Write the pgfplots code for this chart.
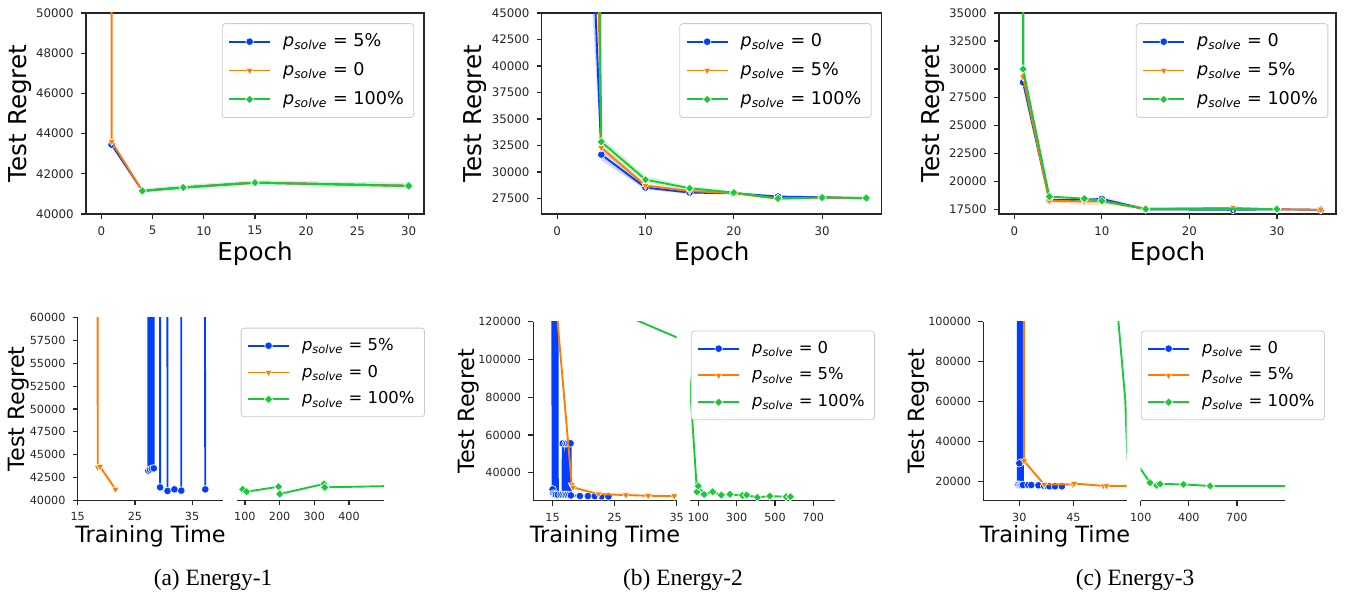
\documentclass[border=0pt]{standalone}
\usepackage{fontspec}
\setmainfont{DejaVu Sans}
\newfontfamily\capfont{Liberation Serif}
\usepackage{pgfplots}
\pgfplotsset{compat=1.18}

\definecolor{cblue}{HTML}{023EFF}
\definecolor{corange}{HTML}{FF7C00}
\definecolor{cgreen}{HTML}{1AC938}
\definecolor{dgray}{HTML}{262626}

\newcommand{\ps}[1]{\textit{p}\textsubscript{\textit{solve}} = #1}

\pgfplotsset{
  panel/.style={
    scale only axis, clip=true, clip marker paths=true,
    axis line style={dgray, line width=0.6pt},
    tick style={dgray, line width=0.6pt},
    major tick length=2.6pt,
    /pgf/number format/assume math mode=true,
    scaled ticks=false,
    yticklabel style={/pgf/number format/fixed, /pgf/number format/1000 sep={}},
    xticklabel style={/pgf/number format/1000 sep={}},
    tick label style={text=dgray},
    legend cell align=left,
    legend image code/.code={\draw[mark repeat=2, mark phase=2]
      plot coordinates {(0pt,0pt) (10.25pt,0pt) (20.5pt,0pt)};},
  },
  top/.style={panel, width=169pt, height=100.5pt,
    xtick pos=left, ytick pos=left, tick align=outside,
    tick label style={font=\fontsize{5.9}{7}\selectfont},
    label style={font=\fontsize{12.3}{14}\selectfont},
    xlabel={Epoch}, ylabel={Test Regret},
    xlabel style={at={(axis description cs:0.5,-0.197)}, anchor=center},
    ylabel style={at={(axis description cs:-0.195,0.5)}, anchor=center},
    legend style={font=\fontsize{8.8}{10.5}\selectfont, draw=black!20,
      rounded corners=1.5pt, anchor=north east, row sep=2.4pt,
      inner xsep=3pt, inner ysep=3pt,
      /tikz/every odd column/.append style={column sep=4pt}},
  },
  botl/.style={panel, height=90pt,
    axis x line*=bottom, axis y line*=left, tick align=outside,
    tick label style={font=\fontsize{5.6}{7}\selectfont},
    label style={font=\fontsize{11.2}{13}\selectfont},
    xlabel={Training Time}, ylabel={Test Regret},
    xlabel style={at={(axis description cs:0.5,-0.2)}, anchor=center},
  },
  botr/.style={panel, height=90pt,
    axis x line*=bottom, hide y axis, tick align=outside,
    tick label style={font=\fontsize{5.6}{7}\selectfont},
    legend style={font=\fontsize{8.2}{9.8}\selectfont, draw=black!20,
      rounded corners=1.5pt, anchor=north east, row sep=1.8pt,
      inner xsep=3pt, inner ysep=3pt,
      /tikz/every odd column/.append style={column sep=4pt}},
  },
  sblue/.style={cblue, line width=0.95pt, mark=*, mark size=1.9pt,
    mark options={fill=cblue, draw=white, line width=0.3pt}},
  sorange/.style={corange, line width=0.95pt, mark=triangle*, mark size=2.1pt,
    mark options={fill=corange, draw=white, line width=0.3pt, rotate=180}},
  sgreen/.style={cgreen, line width=0.95pt, mark=square*, mark size=1.5pt,
    mark options={fill=cgreen, draw=white, line width=0.3pt, rotate=45}},
  band/.style={fill=#1, fill opacity=0.2, draw=none, forget plot},
}

\begin{document}
\begin{tikzpicture}
\useasboundingbox (0,0) rectangle (674pt,298.5pt);

% ---------- (a) Energy-1, epoch ----------
\begin{axis}[top, at={(43pt,191.5pt)}, anchor=south west,
  xmin=-1.5, xmax=31.5, ymin=40000, ymax=50000,
  xtick={0,5,10,15,20,25,30}, ytick={40000,42000,44000,46000,48000,50000},
  legend style={at={(0.971,0.949)}}]
\addplot[band=cgreen] coordinates {(4,41260) (8,41450) (15,41680) (30,41560)
  (30,41250) (15,41430) (8,41180) (4,41060)} -- cycle;
\addplot[sblue] coordinates {(1,43450) (4,41150) (8,41320) (15,41560) (30,41400)};
\addlegendentry{\ps{5\%}}
\addplot[sorange] coordinates {(1,70000) (1,43600) (4,41150) (8,41320) (15,41560) (30,41400)};
\addlegendentry{\ps{0}}
\addplot[sgreen] coordinates {(4,41150) (8,41320) (15,41560) (30,41400)};
\addlegendentry{\ps{100\%}}
\end{axis}

% ---------- (b) Energy-2, epoch ----------
\begin{axis}[top, at={(270.85pt,191.5pt)}, anchor=south west, width=170pt,
  xmin=-1.75, xmax=36.75, ymin=26050, ymax=45000,
  xtick={0,10,20,30}, ytick={27500,30000,32500,35000,37500,40000,42500,45000},
  legend style={at={(0.9706,0.949)}}]
\addplot[band=cblue] coordinates {(0,170000) (5,32100) (10,28750) (15,28200) (20,28080) (25,27800) (30,27700) (35,27600)
  (35,27470) (30,27560) (25,27580) (20,27920) (15,27950) (10,28350) (5,31100) (0,100000)} -- cycle;
\addplot[band=corange] coordinates {(5,32550) (10,28900) (15,28350) (20,28080) (25,27600) (30,27680) (35,27600)
  (35,27500) (30,27520) (25,27400) (20,27920) (15,28100) (10,28550) (5,32050)} -- cycle;
\addplot[band=cgreen] coordinates {(0,450000) (5,33300) (10,29600) (15,28650) (20,28150) (25,27650) (30,27680) (35,27600)
  (35,27520) (30,27520) (25,27380) (20,27990) (15,28300) (10,28980) (5,32400) (0,350000)} -- cycle;
\addplot[sblue] coordinates {(0,134000) (5,31650) (10,28540) (15,28070) (20,28000) (25,27690) (30,27630) (35,27530)};
\addlegendentry{\ps{0}}
\addplot[sorange] coordinates {(0,260000) (5,32300) (10,28730) (15,28220) (20,28000) (25,27500) (30,27600) (35,27550)};
\addlegendentry{\ps{5\%}}
\addplot[sgreen] coordinates {(0,400000) (5,32850) (10,29290) (15,28480) (20,28070) (25,27520) (30,27600) (35,27560)};
\addlegendentry{\ps{100\%}}
\end{axis}

% ---------- (c) Energy-3, epoch ----------
\begin{axis}[top, at={(499.5pt,191.5pt)}, anchor=south west, width=168.5pt,
  xmin=-1.75, xmax=36.75, ymin=17080, ymax=35000,
  xtick={0,10,20,30}, ytick={17500,20000,22500,25000,27500,30000,32500,35000},
  legend style={at={(0.977,0.949)}}]
\addplot[band=corange] coordinates {(4,18350) (8,18300) (10,18700) (15,17650) (25,17700) (30,17550) (35,17500)
  (35,17400) (30,17450) (25,17500) (15,17450) (10,17900) (8,17900) (4,18150)} -- cycle;
\addplot[sblue] coordinates {(1,60000) (1,28810) (4,18330) (8,18350) (10,18420) (15,17500) (25,17450) (30,17500) (35,17450)};
\addlegendentry{\ps{0}}
\addplot[sorange] coordinates {(1,60000) (1,29300) (4,18250) (8,18200) (10,18200) (15,17550) (25,17620) (30,17500) (35,17450)};
\addlegendentry{\ps{5\%}}
\addplot[sgreen] coordinates {(1,60000) (1,30000) (4,18630) (8,18450) (10,18250) (15,17520) (30,17520)};
\addlegendentry{\ps{100\%}}
\end{axis}

% ---------- (a) Energy-1, training time ----------
\begin{axis}[botl, at={(38.85pt,48.35pt)}, anchor=south west, width=72.8pt, height=91.3pt,
  xmin=15, xmax=40.45, ymin=40000, ymax=60000,
  ylabel style={at={(axis description cs:-0.408,0.5)}, anchor=center},
  xtick={15,25,35}, ytick={40000,42500,45000,47500,50000,52500,55000,57500,60000}]
\addplot[sblue] coordinates {(27.35,200000) (27.35,43250) (27.6,200000) (27.65,43350) (27.9,200000) (27.95,43450)
  (28.2,200000) (28.3,43500) (28.3,200000) (29.35,200000) (29.4,41420) (29.4,200000) (30.55,200000) (30.7,41020)
  (30.7,200000) (33.05,200000) (33.1,41060) (33.1,200000) (36.8,200000) (37.3,41200)};
\addplot[sblue, only marks, forget plot] coordinates {(31.9,41200)};
\addplot[sorange] coordinates {(18.4,200000) (18.5,43600) (18.9,43700) (21.6,41200)};
\end{axis}
\begin{axis}[botr, at={(118.65pt,48.35pt)}, anchor=south west, width=73.35pt, height=91.3pt,
  xmin=78, xmax=501, ymin=40000, ymax=60000,
  xtick={100,200,300,400},
  legend style={at={(1.279,0.945)}}]
\addplot[sblue] coordinates {(0,0)};
\addlegendentry{\ps{5\%}}
\addplot[sorange] coordinates {(0,0)};
\addlegendentry{\ps{0}}
\addplot[sgreen] coordinates {(93.5,41200) (104.8,40940) (197,41490) (200.5,40690) (328,41790) (330,41420) (520,41560)};
\addlegendentry{\ps{100\%}}
\end{axis}

% ---------- (b) Energy-2, training time ----------
\begin{axis}[botl, at={(266.65pt,48.15pt)}, anchor=south west, width=71.7pt, height=89.5pt,
  xmin=11.9, xmax=35, ymin=25200, ymax=120000,
  ylabel style={at={(axis description cs:-0.453,0.5)}, anchor=center},
  xtick={15,25,35}, ytick={40000,60000,80000,100000,120000}]
\addplot[sblue] coordinates {(14.9,300000) (15.0,31200) (15.05,300000) (15.15,29000) (15.25,300000) (15.35,28600)
  (15.45,300000) (15.55,28400) (15.7,300000) (15.85,28300) (16.3,28400) (16.6,28300) (16.65,55580) (16.9,28300)
  (17.1,55580) (17.15,28300) (17.35,55580) (17.4,28300) (17.65,55580) (17.7,28300) (17.9,55580) (17.95,28000)
  (19.4,27700) (20.7,27650) (21.8,27600) (22.9,27500) (24.0,27450)};
\addplot[sorange] coordinates {(15.6,128000) (18.1,33500) (18.3,32260) (22.4,28700) (26.8,28190) (30.4,27820) (34.6,27660) (40,27600)};
\addplot[sgreen, mark=none] coordinates {(20,132800) (35,111700) (57,86000)};
\end{axis}
\begin{axis}[botr, at={(345pt,48.15pt)}, anchor=south west, width=72.5pt, height=89.5pt,
  xmin=56.7, xmax=813, ymin=25200, ymax=120000,
  xtick={100,300,500,700},
  legend style={at={(1.276,0.95)}}]
\addplot[sgreen, mark=none, forget plot] coordinates {(35,111700) (57,86000) (93,29900)};
\addplot[sblue] coordinates {(0,0)};
\addlegendentry{\ps{0}}
\addplot[sorange] coordinates {(0,0)};
\addlegendentry{\ps{5\%}}
\addplot[sgreen] coordinates {(93,29900) (100,32950) (130,28500) (175,29930) (220,28200) (265,28550) (330,28000)
  (352,28190) (408,26970) (473,27640) (558,27280) (580,27280)};
\addlegendentry{\ps{100\%}}
\end{axis}

% ---------- (c) Energy-3, training time ----------
\begin{axis}[botl, at={(491.65pt,48.15pt)}, anchor=south west, width=71.7pt, height=89.5pt,
  xmin=20, xmax=59.8, ymin=10500, ymax=100000,
  ylabel style={at={(axis description cs:-0.453,0.5)}, anchor=center},
  xtick={30,45}, ytick={20000,40000,60000,80000,100000}]
\addplot[sblue] coordinates {(29.55,300000) (29.6,18500) (29.75,300000) (29.8,18500) (29.95,300000) (30.0,29200)
  (30.1,300000) (30.15,18350) (30.35,300000) (30.4,18350) (30.6,300000) (30.65,18350) (30.85,300000) (31.0,18350)
  (32.5,18350) (33.3,18350) (35.3,18200) (36.9,17900) (38.3,17700) (39.9,17700) (41.8,17700)};
\addplot[sorange] coordinates {(31.1,300000) (31.3,30350) (36.9,18600) (44.8,18650) (45.2,19100) (53.4,17900) (54.2,17900) (70,17850)};
\addplot[sgreen, mark=none] coordinates {(55,151500) (59.4,60850) (60,31000)};
\end{axis}
\begin{axis}[botr, at={(570.35pt,48.15pt)}, anchor=south west, width=72.15pt, height=89.5pt,
  xmin=100, xmax=1000, ymin=10500, ymax=100000,
  xtick={100,400,700},
  legend style={at={(1.277,0.95)}}]
\addplot[sblue] coordinates {(0,0)};
\addlegendentry{\ps{0}}
\addplot[sorange] coordinates {(0,0)};
\addlegendentry{\ps{5\%}}
\addplot[sgreen] coordinates {(60,31000) (158,19500) (200,18170) (221,18850) (367,18670) (533,17830) (1100,17830)};
\addlegendentry{\ps{100\%}}
\end{axis}

\node[font=\capfont\fontsize{11.7}{14}\selectfont] at (106.5pt,8.5pt) {(a) Energy-1};
\node[font=\capfont\fontsize{11.7}{14}\selectfont] at (341.5pt,8.5pt) {(b) Energy-2};
\node[font=\capfont\fontsize{11.7}{14}\selectfont] at (567.5pt,8.5pt) {(c) Energy-3};
\end{tikzpicture}
\end{document}
